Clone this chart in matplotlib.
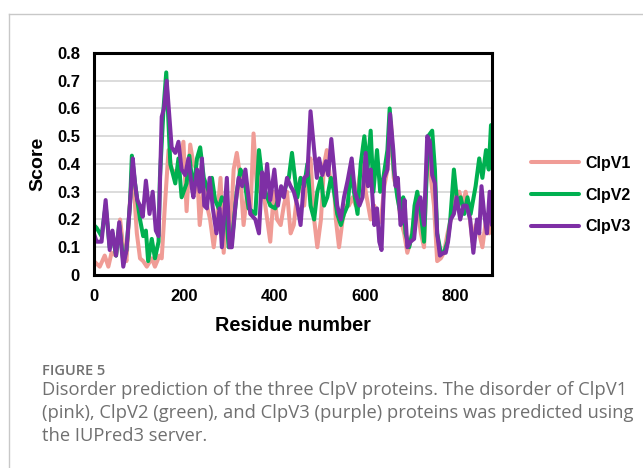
import numpy as np
import matplotlib
matplotlib.use("Agg")
import matplotlib.pyplot as plt
from matplotlib.lines import Line2D

# disorder scores (residue, score)
v1_res = [0, 13, 24, 32, 39, 49, 58, 65, 72, 80, 87, 95, 102, 109, 117, 128, 135, 145, 150, 157,
          165, 172, 180, 187, 198, 205, 213, 220, 228, 234, 243, 250, 257, 265, 272, 280, 287, 294,
          302, 309, 316, 324, 331, 339, 346, 353, 361, 368, 379, 390, 398, 405, 413, 420, 427, 435,
          442, 450, 457, 465, 472, 479, 487, 494, 502, 509, 515, 522, 530, 535, 542, 550, 557, 564,
          572, 579, 587, 594, 601, 612, 620, 627, 635, 642, 649, 653, 657, 663, 671, 678, 686, 693,
          700, 708, 715, 723, 730, 737, 745, 752, 759, 767, 774, 782, 789, 800, 808, 815, 822, 830,
          837, 844, 852, 859, 867, 874, 880]
v1_val = [0.05, 0.03, 0.07, 0.03, 0.08, 0.07, 0.20, 0.10, 0.05, 0.27, 0.35, 0.15, 0.06, 0.05, 0.03,
          0.06, 0.03, 0.07, 0.06, 0.25, 0.45, 0.38, 0.37, 0.38, 0.48, 0.23, 0.47, 0.40, 0.38, 0.18,
          0.33, 0.25, 0.20, 0.10, 0.20, 0.35, 0.08, 0.25, 0.15, 0.38, 0.44, 0.35, 0.18, 0.30, 0.22,
          0.51, 0.30, 0.37, 0.25, 0.12, 0.30, 0.20, 0.18, 0.25, 0.30, 0.15, 0.18, 0.30, 0.35, 0.25,
          0.38, 0.42, 0.20, 0.10, 0.20, 0.40, 0.45, 0.35, 0.35, 0.20, 0.10, 0.20, 0.25, 0.25, 0.28,
          0.25, 0.35, 0.42, 0.30, 0.20, 0.25, 0.18, 0.20, 0.32, 0.38, 0.45, 0.55, 0.35, 0.30, 0.20,
          0.15, 0.08, 0.12, 0.20, 0.25, 0.15, 0.10, 0.45, 0.35, 0.25, 0.05, 0.06, 0.08, 0.15, 0.20,
          0.30, 0.30, 0.25, 0.30, 0.22, 0.12, 0.18, 0.15, 0.10, 0.20, 0.15, 0.25]

v2_res = [0, 6, 17, 26, 35, 41, 49, 56, 65, 72, 80, 84, 91, 96, 102, 109, 115, 120, 128, 135, 143,
          146, 154, 160, 169, 180, 187, 194, 205, 211, 220, 228, 235, 243, 254, 261, 268, 276, 283,
          291, 298, 305, 316, 324, 331, 342, 357, 365, 372, 379, 390, 401, 409, 420, 431, 438, 446,
          450, 457, 465, 472, 479, 487, 494, 502, 509, 516, 524, 531, 538, 546, 553, 561, 568, 575,
          583, 590, 598, 605, 612, 618, 626, 633, 640, 649, 654, 663, 671, 678, 684, 689, 697, 704,
          709, 715, 723, 730, 739, 748, 754, 759, 767, 774, 782, 788, 796, 804, 811, 819, 826, 833,
          844, 852, 859, 867, 873, 878]
v2_val = [0.18, 0.17, 0.14, 0.25, 0.10, 0.15, 0.07, 0.18, 0.05, 0.09, 0.26, 0.43, 0.33, 0.27, 0.20,
          0.14, 0.16, 0.05, 0.13, 0.06, 0.12, 0.35, 0.60, 0.73, 0.40, 0.33, 0.42, 0.28, 0.33, 0.43,
          0.30, 0.42, 0.46, 0.35, 0.30, 0.35, 0.27, 0.24, 0.28, 0.26, 0.10, 0.12, 0.30, 0.38, 0.36,
          0.24, 0.22, 0.45, 0.35, 0.30, 0.25, 0.24, 0.28, 0.30, 0.35, 0.44, 0.33, 0.28, 0.35, 0.32,
          0.40, 0.25, 0.20, 0.30, 0.35, 0.25, 0.28, 0.35, 0.30, 0.22, 0.18, 0.22, 0.25, 0.38, 0.30,
          0.22, 0.40, 0.50, 0.38, 0.52, 0.30, 0.45, 0.30, 0.35, 0.45, 0.60, 0.38, 0.28, 0.22, 0.28,
          0.15, 0.10, 0.15, 0.25, 0.30, 0.22, 0.12, 0.50, 0.52, 0.38, 0.15, 0.08, 0.08, 0.12, 0.20,
          0.38, 0.25, 0.28, 0.22, 0.28, 0.22, 0.32, 0.42, 0.35, 0.45, 0.38, 0.54]

v3_res = [0, 6, 17, 26, 35, 41, 49, 56, 65, 72, 80, 86, 91, 96, 102, 108, 115, 123, 130, 137, 143,
          150, 155, 161, 167, 172, 180, 187, 194, 202, 209, 217, 220, 228, 234, 239, 244, 250, 256,
          263, 271, 278, 283, 294, 300, 305, 313, 320, 328, 335, 346, 357, 365, 372, 377, 383, 390,
          399, 407, 414, 420, 427, 435, 442, 450, 457, 465, 472, 479, 487, 493, 498, 505, 513, 518,
          525, 533, 538, 546, 553, 561, 570, 577, 587, 594, 601, 606, 612, 620, 626, 631, 636, 642,
          649, 655, 662, 667, 672, 678, 684, 687, 693, 700, 708, 715, 722, 730, 737, 743, 748, 754,
          759, 765, 773, 778, 783, 789, 796, 802, 810, 817, 824, 832, 839, 847, 852, 857, 863, 869,
          875, 880]
v3_val = [0.15, 0.12, 0.12, 0.27, 0.09, 0.16, 0.07, 0.19, 0.03, 0.09, 0.26, 0.42, 0.33, 0.27, 0.25,
          0.21, 0.34, 0.22, 0.30, 0.16, 0.14, 0.57, 0.60, 0.70, 0.57, 0.46, 0.44, 0.48, 0.38, 0.36,
          0.42, 0.31, 0.28, 0.38, 0.30, 0.42, 0.25, 0.24, 0.35, 0.24, 0.15, 0.24, 0.10, 0.35, 0.10,
          0.10, 0.25, 0.35, 0.32, 0.38, 0.22, 0.20, 0.15, 0.37, 0.28, 0.40, 0.27, 0.38, 0.25, 0.32,
          0.28, 0.35, 0.32, 0.30, 0.25, 0.18, 0.35, 0.36, 0.59, 0.45, 0.35, 0.42, 0.36, 0.41, 0.36,
          0.49, 0.35, 0.25, 0.20, 0.28, 0.34, 0.42, 0.30, 0.25, 0.28, 0.44, 0.32, 0.38, 0.18, 0.24,
          0.12, 0.09, 0.35, 0.38, 0.58, 0.45, 0.32, 0.35, 0.18, 0.20, 0.27, 0.10, 0.12, 0.13, 0.25,
          0.28, 0.18, 0.50, 0.48, 0.36, 0.33, 0.15, 0.07, 0.08, 0.08, 0.12, 0.20, 0.22, 0.28, 0.20,
          0.25, 0.25, 0.20, 0.08, 0.20, 0.15, 0.32, 0.22, 0.15, 0.30, 0.18]

names = ["ClpV1", "ClpV2", "ClpV3"]
colors = ["#F09C96", "#00B050", "#7E2FA5"]
yticks = [0, 0.1, 0.2, 0.3, 0.4, 0.5, 0.6, 0.7, 0.8]
xticks = [0, 200, 400, 600, 800]

caption_lines = ["Disorder prediction of the three ClpV proteins. The disorder of ClpV1",
                 "(pink), ClpV2 (green), and ClpV3 (purple) proteins was predicted using",
                 "the IUPred3 server."]

plt.rcParams["font.family"] = ["Liberation Sans", "DejaVu Sans"]

fig = plt.figure(figsize=(6.43, 4.68), dpi=100)
ax = fig.add_axes([0.146, 0.4124, 0.619, 0.4744])

for xs, ys, name, c in zip([v1_res, v2_res, v3_res], [v1_val, v2_val, v3_val], names, colors):
    ax.plot(xs, ys, color=c, lw=2.9, label=name, solid_joinstyle="round", solid_capstyle="round")

ax.set_xlim(0, 880)
ax.set_ylim(0, 0.8)
ax.set_yticks(yticks)
ax.set_yticklabels([f"{t:g}" for t in yticks])
ax.set_xticks(xticks)
ax.yaxis.grid(True, color="#D9D9D9", lw=1.3)
ax.set_axisbelow(True)
ax.tick_params(length=0, labelsize=12, pad=10)
for lab in ax.get_xticklabels() + ax.get_yticklabels():
    lab.set_fontweight("bold")
for sp in ax.spines.values():
    sp.set_linewidth(2.2)
    sp.set_color("black")

ax.set_xlabel("Residue number", fontsize=14.3, fontweight="bold", labelpad=9)
ax.set_ylabel("Score", fontsize=14, fontweight="bold", labelpad=8)

fig.legend(loc="center left", bbox_to_anchor=(0.814, 0.583), frameon=False,
           prop={"weight": "bold", "size": 11.5}, handlelength=3.0, handletextpad=0.4,
           labelspacing=1.05, borderpad=0)

# page frame lines
fig.add_artist(Line2D([9 / 643, 1], [1 - 14 / 468, 1 - 14 / 468], color="#C8C8C8", lw=1))
fig.add_artist(Line2D([9 / 643, 9 / 643], [0, 1 - 14 / 468], color="#C8C8C8", lw=1))

fig.text(42 / 643, 1 - 371 / 468, "FIGURE 5", family="Open Sans", fontsize=10.5,
         color="#707070", fontweight="semibold", va="center")
for i, line in enumerate(caption_lines):
    fig.text(42 / 643, 1 - (390 + 23 * i) / 468, line, family="Open Sans", fontsize=13.2,
             color="#707070", va="center")

fig.savefig("out.png", dpi=100)
